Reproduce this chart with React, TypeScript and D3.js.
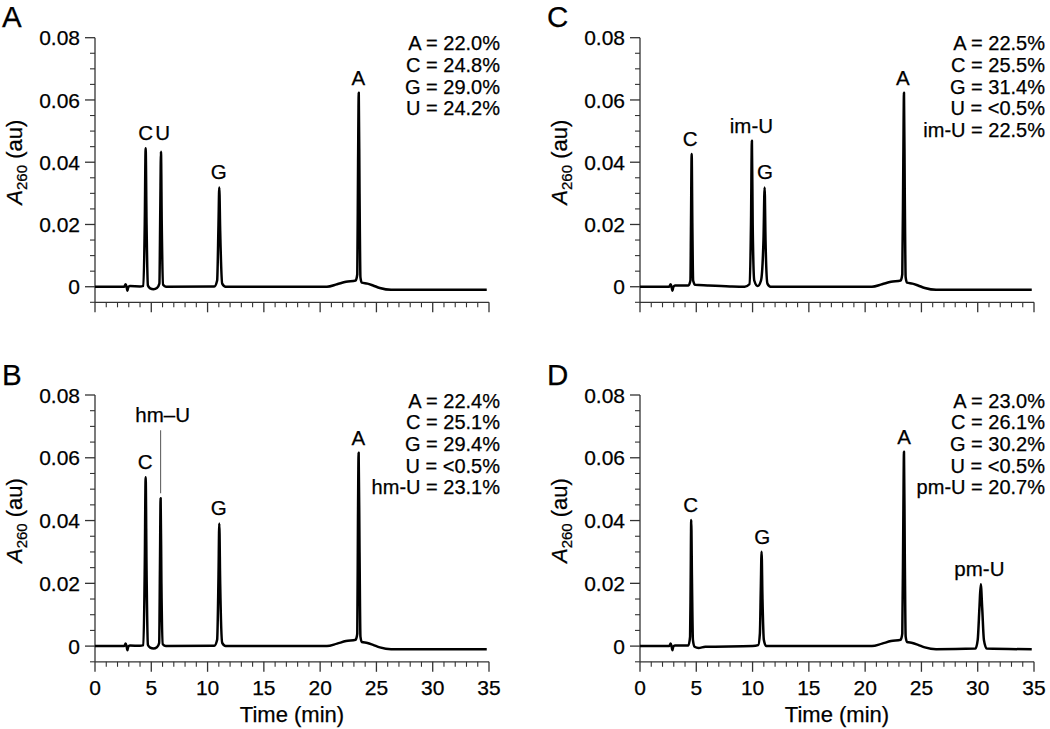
import React from "react";
import * as d3 from "d3";

// ---------- data ----------
const timeMajorTicks = [0, 5, 10, 15, 20, 25, 30, 35];
const absMajorTicks = [0, 0.02, 0.04, 0.06, 0.08];
const absMinorTicks = [-0.005, 0.005, 0.01, 0.015, 0.025, 0.03, 0.035, 0.045, 0.05, 0.055, 0.065, 0.07, 0.075];

type Pt = [number, number];

const traceA: Pt[] = [
  [0, 0], [2.6, 0], [2.72, 0.0008], [2.8, 0.0001], [2.88, -0.0013], [2.95, -0.0002], [3.1, 0.0002],
  [4.0, 0.0001], [4.3, 0.0003], [4.42, 0.02], [4.5, 0.0445], [4.58, 0.02], [4.7, 0.0004],
  [4.9, -0.0005], [5.2, -0.0008], [5.5, -0.0004], [5.72, 0.001], [5.8, 0.025], [5.86, 0.0434],
  [5.93, 0.02], [6.05, 0.0006], [6.3, 0], [10.6, 0.0001], [10.85, 0.002], [10.97, 0.02],
  [11.04, 0.0319], [11.12, 0.018], [11.3, 0.001], [11.6, 0], [20.6, 0], [21.5, 0.0008],
  [22.3, 0.0016], [23.15, 0.002], [23.3, 0.004], [23.37, 0.04], [23.43, 0.0623], [23.5, 0.03],
  [23.58, 0.003], [23.7, 0.0013], [24.2, 0.001], [24.7, 0.0004], [25.3, -0.0004], [26.3, -0.001],
  [34.8, -0.001],
];

const traceB: Pt[] = [
  [0, 0], [2.6, 0], [2.72, 0.0008], [2.8, 0.0001], [2.88, -0.0013], [2.95, -0.0002], [3.1, 0.0002],
  [4.0, 0.0001], [4.3, 0.0003], [4.42, 0.025], [4.5, 0.0538], [4.58, 0.024], [4.7, 0.0004],
  [4.9, -0.0005], [5.2, -0.0008], [5.5, -0.0004], [5.7, 0.001], [5.77, 0.025], [5.83, 0.0471],
  [5.9, 0.02], [6.02, 0.0006], [6.3, 0], [10.6, 0.0001], [10.85, 0.002], [10.97, 0.022],
  [11.04, 0.0391], [11.12, 0.02], [11.3, 0.001], [11.6, 0], [20.6, 0], [21.5, 0.0008],
  [22.3, 0.0016], [23.15, 0.002], [23.3, 0.004], [23.36, 0.04], [23.42, 0.0616], [23.5, 0.03],
  [23.58, 0.003], [23.7, 0.0013], [24.2, 0.001], [24.7, 0.0004], [25.3, -0.0004], [26.3, -0.001],
  [34.8, -0.001],
];

const traceC: Pt[] = [
  [0, 0], [2.6, 0], [2.72, 0.0008], [2.8, 0.0001], [2.88, -0.0013], [2.95, -0.0002], [3.1, 0.0004],
  [4.3, 0.0004], [4.48, 0.002], [4.53, 0.02], [4.59, 0.0426], [4.65, 0.02], [4.72, 0.002],
  [4.9, 0.0006], [6.0, 0.0004], [8.0, 0.0001], [9.3, 0], [9.72, 0.0008], [9.86, 0.02],
  [9.94, 0.0469], [10.01, 0.02], [10.15, 0.002], [10.45, 0.0002], [10.75, 0.002], [10.97, 0.015],
  [11.07, 0.0319], [11.15, 0.015], [11.32, 0.001], [11.6, 0], [20.6, 0], [21.5, 0.0008],
  [22.3, 0.0016], [23.15, 0.002], [23.3, 0.004], [23.39, 0.04], [23.45, 0.0623], [23.52, 0.03],
  [23.6, 0.003], [23.72, 0.0013], [24.2, 0.001], [24.7, 0.0004], [25.3, -0.0004], [26.3, -0.001],
  [34.8, -0.001],
];

const traceD: Pt[] = [
  [0, 0], [2.6, 0], [2.72, 0.0008], [2.8, 0.0001], [2.88, -0.0013], [2.95, -0.0002], [3.1, 0.0002],
  [4.3, 0.0002], [4.45, 0.003], [4.5, 0.02], [4.55, 0.0402], [4.62, 0.02], [4.7, 0.002],
  [4.85, -0.0002], [5.2, -0.0006], [5.8, -0.0002], [10.0, 0], [10.5, 0.0003], [10.65, 0.004],
  [10.73, 0.018], [10.8, 0.0301], [10.88, 0.015], [11.0, 0.002], [11.2, 0], [20.6, 0],
  [21.5, 0.0008], [22.3, 0.0016], [23.15, 0.002], [23.3, 0.004], [23.39, 0.04], [23.45, 0.0619],
  [23.52, 0.03], [23.6, 0.003], [23.72, 0.0013], [24.2, 0.001], [24.7, 0.0004], [25.3, -0.0004],
  [26.3, -0.001], [29.8, -0.0008], [30.0, 0.002], [30.15, 0.012], [30.27, 0.0197], [30.4, 0.012],
  [30.55, 0.002], [30.8, -0.0008], [34.8, -0.001],
];

type PeakLabel = { text: string; t: number; v: number; leader?: boolean };

const peaksA: PeakLabel[] = [
  { text: "C", t: 4.5, v: 0.0445 },
  { text: "U", t: 6.0, v: 0.0445 },
  { text: "G", t: 11.0, v: 0.0319 },
  { text: "A", t: 23.4, v: 0.0623 },
];
const peaksB: PeakLabel[] = [
  { text: "C", t: 4.45, v: 0.0538 },
  { text: "hm–U", t: 5.83, v: 0.0471, leader: true },
  { text: "G", t: 11.0, v: 0.0391 },
  { text: "A", t: 23.4, v: 0.0616 },
];
const peaksC: PeakLabel[] = [
  { text: "C", t: 4.45, v: 0.0426 },
  { text: "im-U", t: 9.9, v: 0.0469 },
  { text: "G", t: 11.1, v: 0.0319 },
  { text: "A", t: 23.35, v: 0.0623 },
];
const peaksD: PeakLabel[] = [
  { text: "C", t: 4.5, v: 0.0402 },
  { text: "G", t: 10.85, v: 0.0301 },
  { text: "A", t: 23.45, v: 0.0619 },
  { text: "pm-U", t: 30.15, v: 0.0197 },
];

const compA = ["A = 22.0%", "C = 24.8%", "G = 29.0%", "U = 24.2%"];
const compB = ["A = 22.4%", "C = 25.1%", "G = 29.4%", "U = <0.5%", "hm-U = 23.1%"];
const compC = ["A = 22.5%", "C = 25.5%", "G = 31.4%", "U = <0.5%", "im-U = 22.5%"];
const compD = ["A = 23.0%", "C = 26.1%", "G = 30.2%", "U = <0.5%", "pm-U = 20.7%"];

const panelLetters = ["A", "B", "C", "D"];

// ---------- layout ----------
const FONT = "'Liberation Sans', Arial, Helvetica, sans-serif";
const AXIS = "#333";
const TXT = "#000";
const TS = { stroke: "#000", strokeWidth: 0.25 };

type PanelProps = {
  letter: string;
  trace: Pt[];
  peaks: PeakLabel[];
  comp: string[];
  x0: number;
  x1: number;
  yTop: number;
  yBot: number;
  showXLabels: boolean;
};

function Panel({ letter, trace, peaks, comp, x0, x1, yTop, yBot, showXLabels }: PanelProps) {
  const x = d3.scaleLinear().domain([0, 35]).range([x0, x1]);
  const y = d3.scaleLinear().domain([-0.005, 0.08]).range([yBot, yTop]);
  const line = d3
    .line<Pt>()
    .x((d) => x(d[0]))
    .y((d) => y(d[1]))
    .curve(d3.curveMonotoneX);
  const minorX = d3.range(0, 36, 1).filter((v) => v % 5 !== 0);
  const fmt = (v: number) => (v === 0 ? "0" : d3.format(".2f")(v));
  const yMid = (y(0) + y(0.08)) / 2;

  return (
    <g>
      <text x={x0 - 93} y={yTop - 10.5} fontSize={29.5} fontFamily={FONT} fill={TXT} {...TS}>
        {letter}
      </text>
      {/* axes */}
      <line x1={x0} x2={x0} y1={yTop} y2={yBot} stroke={AXIS} strokeWidth={1.3} />
      <line x1={x0} x2={x1} y1={yBot} y2={yBot} stroke={AXIS} strokeWidth={1.3} />
      {absMajorTicks.map((v) => (
        <g key={"ym" + v}>
          <line x1={x0 - 10} x2={x0} y1={y(v)} y2={y(v)} stroke={AXIS} strokeWidth={1.3} />
          <text x={x0 - 15} y={y(v)} dy="0.36em" textAnchor="end" fontSize={21} fontFamily={FONT} fill={TXT} {...TS}>
            {fmt(v)}
          </text>
        </g>
      ))}
      {absMinorTicks.map((v) => (
        <line key={"yn" + v} x1={x0 - 5} x2={x0} y1={y(v)} y2={y(v)} stroke={AXIS} strokeWidth={1.1} />
      ))}
      {timeMajorTicks.map((t) => (
        <g key={"xm" + t}>
          <line x1={x(t)} x2={x(t)} y1={yBot} y2={yBot + 10} stroke={AXIS} strokeWidth={1.3} />
          {showXLabels && (
            <text x={x(t)} y={yBot + 33} textAnchor="middle" fontSize={21} fontFamily={FONT} fill={TXT} {...TS}>
              {t}
            </text>
          )}
        </g>
      ))}
      {minorX.map((t) => (
        <line key={"xn" + t} x1={x(t)} x2={x(t)} y1={yBot} y2={yBot + 5} stroke={AXIS} strokeWidth={1.1} />
      ))}
      {showXLabels && (
        <text x={(x0 + x1) / 2} y={yBot + 60} textAnchor="middle" fontSize={22} fontFamily={FONT} fill={TXT} {...TS}>
          Time (min)
        </text>
      )}
      {/* y label */}
      <text
        transform={`translate(${x0 - 73},${yMid}) rotate(-90)`}
        textAnchor="middle"
        fontSize={22}
        fontFamily={FONT}
        fill={TXT}
        {...TS}
      >
        <tspan fontStyle="italic">A</tspan>
        <tspan fontSize={15} dy={5}>260</tspan>
        <tspan dy={-5}> (au)</tspan>
      </text>
      {/* trace */}
      <path d={line(trace) || ""} fill="none" stroke="#000" strokeWidth={2.5} strokeLinejoin="round" />
      {/* peak labels */}
      {peaks.map((p) =>
        p.leader ? (
          <g key={p.text}>
            <line x1={x(p.t)} x2={x(p.t)} y1={y(p.v) - 5} y2={y(p.v) - 68} stroke="#555" strokeWidth={1} />
            <text x={x(p.t) + 2} y={y(p.v) - 76} textAnchor="middle" fontSize={20.5} fontFamily={FONT} fill={TXT} {...TS}>
              {p.text}
            </text>
          </g>
        ) : (
          <text key={p.text} x={x(p.t)} y={y(p.v) - 8} textAnchor="middle" fontSize={20.5} fontFamily={FONT} fill={TXT} {...TS}>
            {p.text}
          </text>
        )
      )}
      {/* composition */}
      {comp.map((c, i) => (
        <text
          key={c}
          x={x1 + 11}
          y={yTop + 12.5 + i * 21.7}
          textAnchor="end"
          fontSize={20}
          fontFamily={FONT}
          fill={TXT}
          {...TS}
        >
          {c}
        </text>
      ))}
    </g>
  );
}

export default function App() {
  const cols = [
    { x0: 95, x1: 489 },
    { x0: 640, x1: 1034 },
  ];
  const rows = [
    { yTop: 37.7, yBot: 302.3, showX: false },
    { yTop: 395, yBot: 661.8, showX: true },
  ];
  const panels = [
    { trace: traceA, peaks: peaksA, comp: compA, c: 0, r: 0 },
    { trace: traceB, peaks: peaksB, comp: compB, c: 0, r: 1 },
    { trace: traceC, peaks: peaksC, comp: compC, c: 1, r: 0 },
    { trace: traceD, peaks: peaksD, comp: compD, c: 1, r: 1 },
  ];
  return (
    <svg
      width={1050}
      height={729}
      style={{ position: "absolute", left: 0, top: 0, background: "#fff" }}
    >
      <rect width={1050} height={729} fill="#fff" />
      {panels.map((p, i) => (
        <Panel
          key={i}
          letter={panelLetters[i]}
          trace={p.trace}
          peaks={p.peaks}
          comp={p.comp}
          x0={cols[p.c].x0}
          x1={cols[p.c].x1}
          yTop={rows[p.r].yTop}
          yBot={rows[p.r].yBot}
          showXLabels={rows[p.r].showX}
        />
      ))}
    </svg>
  );
}
